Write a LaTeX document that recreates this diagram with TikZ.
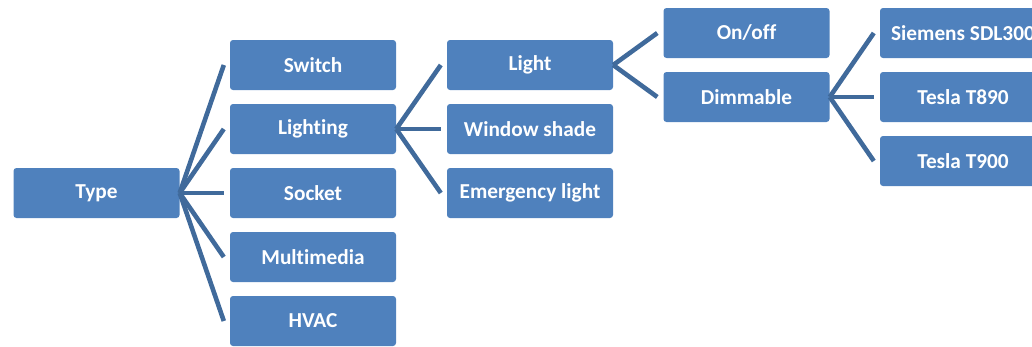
\documentclass[tikz,border=0pt]{standalone}
\usepackage{fontspec}
\setmainfont{Carlito}[Ligatures=NoCommon]
\definecolor{boxblue}{RGB}{79,129,189}
\definecolor{linkblue}{RGB}{64,106,155}
\tikzset{
  item/.style={rectangle, rounded corners=3pt, fill=boxblue, draw=none,
    minimum width=166pt, minimum height=50pt, inner sep=0pt,
    text=white, font=\fontsize{21.3}{25}\selectfont\bfseries},
  link/.style={draw=linkblue, line width=4.6pt}
}
\begin{document}
\begin{tikzpicture}[x=1pt,y=-1pt]
\useasboundingbox (0,0) rectangle (1032,346);
% root
\node[item] (type) at (96.5,193) {Type};
% first level
\node[item] (switch) at (313,65) {Switch};
\node[item] (lighting) at (313,129) {Lighting};
\node[item] (socket) at (313,193) {Socket};
\node[item] (multimedia) at (313,257) {Multimedia};
\node[item] (hvac) at (313,321) {HVAC};
% second level
\node[item] (light) at (530,65) {Light};
\node[item] (shade) at (530,129) {Window shade};
\node[item] (emergency) at (530,193) {Emergency light};
% third level
\node[item] (onoff) at (746.5,33) {On/off};
\node[item] (dimmable) at (746.5,97) {Dimmable};
% fourth level
\node[item] (sdl) at (963,33) {Siemens SDL300};
\node[item] (t890) at (963,97) {Tesla T890};
\node[item] (t900) at (963,161) {Tesla T900};
% connectors
\foreach \c in {switch,lighting,socket,multimedia,hvac}
  \draw[link] (type.east) -- ([xshift=-6pt]\c.west);
\foreach \c in {light,shade,emergency}
  \draw[link] (lighting.east) -- ([xshift=-6pt]\c.west);
\foreach \c in {onoff,dimmable}
  \draw[link] (light.east) -- ([xshift=-6pt]\c.west);
\foreach \c in {sdl,t890,t900}
  \draw[link] (dimmable.east) -- ([xshift=-6pt]\c.west);
\end{tikzpicture}
\end{document}
